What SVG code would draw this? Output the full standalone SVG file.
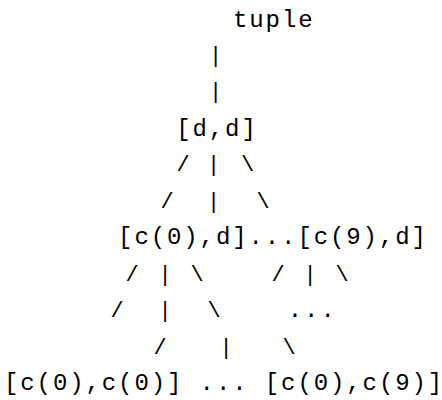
<svg xmlns="http://www.w3.org/2000/svg" width="442" height="400" viewBox="0 0 442 400">
<style>
text { font-family: "Liberation Mono", "Courier New", monospace; font-size: 24px; fill: #000; }
.n { }
.c { text-anchor: middle; font-size: 22px; }
</style>
<rect width="442" height="400" fill="#fff"/>
<g id="connectors">
  <text class="c" x="215.5" y="62">|</text>
  <text class="c" x="215.5" y="98">|</text>
  <text class="c" x="183" y="171">/</text>
  <text class="c" x="213.5" y="171">|</text>
  <text class="c" x="247.5" y="171">\</text>
  <text class="c" x="167" y="208">/</text>
  <text class="c" x="213.5" y="208">|</text>
  <text class="c" x="263" y="208">\</text>
  <text class="c" x="132" y="281">/</text>
  <text class="c" x="165" y="281">|</text>
  <text class="c" x="197" y="281">\</text>
  <text class="c" x="278" y="281">/</text>
  <text class="c" x="310" y="281">|</text>
  <text class="c" x="342" y="281">\</text>
  <text class="c" x="117" y="317">/</text>
  <text class="c" x="165" y="317">|</text>
  <text class="c" x="214" y="317">\</text>
  <text class="c" x="160" y="354">/</text>
  <text class="c" x="226" y="354">|</text>
  <text class="c" x="289" y="354">\</text>
</g>
<g id="node-tuple"><text class="n" x="233" y="27" textLength="79.6" lengthAdjust="spacing">tuple</text></g>
<g id="node-dd"><text class="n" x="176.2" y="136" textLength="79.6" lengthAdjust="spacing">[d,d]</text></g>
<g id="node-c0d"><text class="n" x="118.1" y="244" textLength="128.5" lengthAdjust="spacing">[c(0),d]</text></g>
<g id="node-mid-ellipsis"><text class="n" x="248.5" y="244" textLength="47" lengthAdjust="spacing">...</text></g>
<g id="node-c9d"><text class="n" x="297.4" y="244" textLength="128.5" lengthAdjust="spacing">[c(9),d]</text></g>
<g id="node-c9d-ellipsis"><text class="n" x="287.8" y="317" textLength="47" lengthAdjust="spacing">...</text></g>
<g id="node-c0c0"><text class="n" x="4" y="390" textLength="177.4" lengthAdjust="spacing">[c(0),c(0)]</text></g>
<g id="node-bottom-ellipsis"><text class="n" x="199.6" y="390" textLength="47" lengthAdjust="spacing">...</text></g>
<g id="node-c0c9"><text class="n" x="264.8" y="390" textLength="177.4" lengthAdjust="spacing">[c(0),c(9)]</text></g>
</svg>
